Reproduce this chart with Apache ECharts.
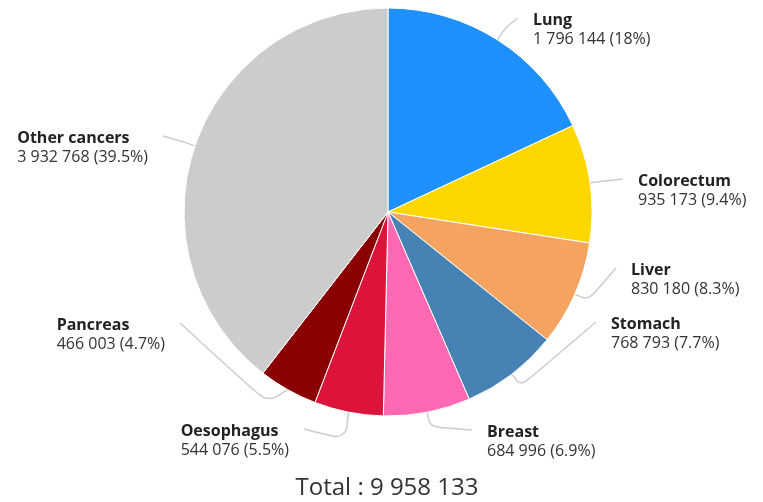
<!DOCTYPE html>
<html>
<head>
    <meta charset="utf-8">
    <title>cancers</title>
    <style>
        html, body { margin: 0; padding: 0; background: #fff; }
    </style>
</head>
<body>
    <div id="main" style="width: 763px;height:502px;"></div>
    <script src="https://cdn.jsdelivr.net/npm/echarts@6/dist/echarts.min.js"></script>
    <script>
        var names = ['Lung', 'Colorectum', 'Liver', 'Stomach', 'Breast', 'Oesophagus', 'Pancreas', 'Other cancers'];
        var values = [1796144, 935173, 830180, 768793, 684996, 544076, 466003, 3932768];
        var colors = ['#1e90ff', '#ffd700', '#f4a460', '#4682b4', '#ff69b4', '#dc143c', '#8b0000', '#cccccc'];

        // where each label line ends (labels are spread like the original)
        var labelEnds = {
            'Lung': [518, 18],
            'Colorectum': [623, 179],
            'Liver': [616, 268],
            'Stomach': [596, 322],
            'Breast': [472, 430],
            'Oesophagus': [304, 429],
            'Pancreas': [180, 323],
            'Other cancers': [163, 136]
        };

        function fmt(n) {
            return String(n).replace(/\B(?=(\d{3})+(?!\d))/g, ' ');
        }

        var total = 0;
        values.forEach(function (v) { total += v; });

        var data = names.map(function (n, i) {
            return { name: n, value: values[i], itemStyle: { color: colors[i] } };
        });

        var myChart = echarts.init(document.getElementById('main'));
        var option = {
            animation: false,
            title: {
                text: 'Total : ' + fmt(total),
                left: 382,
                textAlign: 'center',
                top: 471,
                textStyle: {
                    fontFamily: 'Open Sans',
                    fontSize: 24,
                    fontWeight: 'normal',
                    color: '#333'
                }
            },
            series: [{
                type: 'pie',
                center: [388, 212],
                radius: 204,
                startAngle: 90,
                clockwise: true,
                percentPrecision: 1,
                itemStyle: {
                    borderColor: '#fff',
                    borderWidth: 1
                },
                label: {
                    fontFamily: 'Open Sans',
                    formatter: function (p) {
                        return '{n|' + p.name + '}\n{v|' + fmt(p.value) + ' (' + p.percent + '%)}';
                    },
                    rich: {
                        n: { fontFamily: 'Open Sans', fontSize: 16, fontWeight: 'bold', color: '#222', align: 'left', lineHeight: 19 },
                        v: { fontFamily: 'Open Sans', fontSize: 16, color: '#333', align: 'left', lineHeight: 19 }
                    }
                },
                labelLine: {
                    length: 15,
                    length2: 20,
                    smooth: 0.3,
                    lineStyle: { color: '#ccc', width: 1.5 }
                },
                labelLayout: function (p) {
                    var end = labelEnds[names[p.dataIndex]];
                    var pts = p.labelLinePoints;
                    var dir = end[0] > 388 ? 1 : -1;
                    return {
                        x: end[0] + 15 * dir,
                        y: end[1] - 7,
                        align: dir > 0 ? 'left' : 'right',
                        verticalAlign: 'top',
                        labelLinePoints: [pts[0], pts[1], [end[0], end[1]]]
                    };
                },
                data: data
            }]
        };
        myChart.setOption(option);
    </script>
</body>
</html>
